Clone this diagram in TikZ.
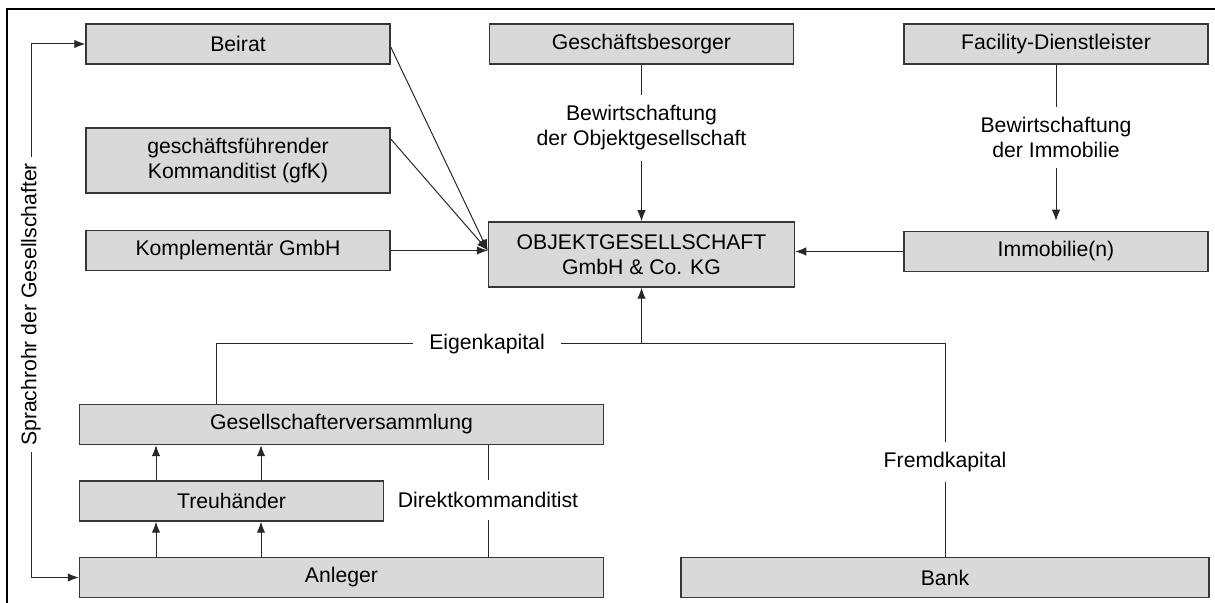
\documentclass[tikz,border=0pt]{standalone}
\usepackage{fontspec}
\setmainfont{Liberation Sans}
\usetikzlibrary{arrows.meta, positioning}
\definecolor{boxfill}{RGB}{217,217,217}
\definecolor{boxline}{RGB}{55,55,55}
\definecolor{linecol}{RGB}{40,40,40}
\tikzset{>={Latex[length=5.5pt,width=4.3pt]},
    every node/.style={font=\fontsize{10.6}{12.5}\selectfont},
    box/.style={rectangle,draw=boxline,fill=boxfill,line width=0.75pt,inner sep=0pt,
        minimum height=20pt,minimum width=152pt,align=center},
    tallbox/.style={box,minimum height=32.5pt},
    longbox/.style={box,minimum width=262pt},
    textnode/.style={inner sep=5pt,align=center},
    link/.style={draw=linecol,line width=0.5pt}}

\begin{document}
\begin{tikzpicture}[x=0.5pt,y=-0.5pt]
\useasboundingbox (0,0) rectangle (1215,603);
\draw[line width=1pt] (7,603) -- (7,9) -- (1215,9);
% obere Haelfte
\node[box]     (beirat)   at (238,44)     {Beirat};
\node[tallbox] (gfk)      at (238,160.5)  {geschäftsführender\\Kommanditist (gfK)};
\node[box]     (kompl)    at (238,250.5)  {Komplementär GmbH};
\node[box]     (gb)       at (641.5,44)   {Geschäftsbesorger};
\node[box]     (facility) at (1056,44)    {Facility-Dienstleister};
\node[tallbox,minimum width=153pt] (obj) at (641.5,254.5) {OBJEKTGESELLSCHAFT\\GmbH \& Co. KG};
\node[box]     (immo)     at (1056,251.5) {Immobilie(n)};
% untere Haelfte
\node[longbox] (gv)       at (341.5,424.5) {Gesellschafterversammlung};
\node[box]     (treu)     at (231.5,501)   {Treuhänder};
\node[longbox] (anleger)  at (341.5,577.5) {Anleger};
\node[longbox,minimum width=264pt] (bank) at (945,577.5) {Bank};

\node[textnode] (bewobj) at (641.5,128)  {Bewirtschaftung\\der Objektgesellschaft};
\node[textnode] (bewimm) at (1056,137.5) {Bewirtschaftung\\der Immobilie};
\node[textnode,inner xsep=8pt] (eigen) at (487,344) {Eigenkapital};
\node[textnode] (fremd)  at (945,462)    {Fremdkapital};
\node[textnode,inner ysep=6pt] (direkt) at (488,500) {Direktkommanditist};
\node[textnode,rotate=90,inner sep=3pt] (sprach) at (31,304.5) {Sprachrohr der Gesellschafter};

\coordinate (objin) at (kompl.east -| obj.west);
\draw[link,->] ([yshift=-1.5pt]beirat.east) -- (objin);
\draw[link,->] ([yshift=10.75pt]gfk.east) -- (objin);
\draw[link,->] (kompl.east) -- (objin);
\draw[link] (gb) -- (bewobj);
\draw[link,->] (bewobj) -- (obj);
\draw[link] (facility) -- (bewimm);
\draw[link,->,shorten >=5pt] (bewimm) -- (immo);
\draw[link,->] (immo.west) -- (immo.west -| obj.east);

\draw[link] (216,0 |- gv.north) |- (eigen.west);
\draw[link] (eigen.east) -| (fremd.north);
\draw[link] (fremd) -- (bank);
\draw[link,->] (eigen.east -| obj.south) -- (obj.south);
\draw[link] (direkt.north |- gv.south) -- (direkt.north);
\draw[link] (direkt.south) -- (direkt.south |- anleger.north);
\foreach \ax in {156,261} {
    \draw[link,->] (\ax,0 |- anleger.north) -- (\ax,0 |- treu.south);
    \draw[link,->] (\ax,0 |- treu.north) -- (\ax,0 |- gv.south);
}
\draw[link,->] (sprach.east) |- (beirat.west);
\draw[link,->] (sprach.west) |- (anleger.west);
\end{tikzpicture}
\end{document}
